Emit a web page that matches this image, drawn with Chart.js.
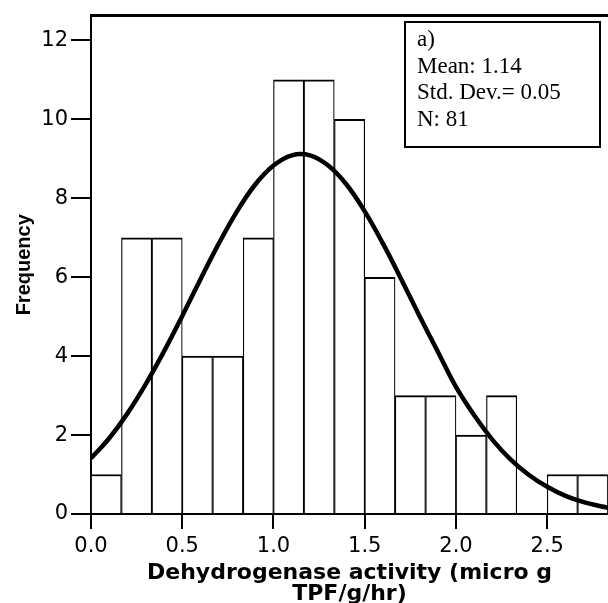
<!DOCTYPE html>
<html><head><meta charset="utf-8">
<script src="https://cdn.jsdelivr.net/npm/chart.js@4.4.1/dist/chart.umd.min.js"></script>
<style>html,body{margin:0;padding:0;background:#fff;}#wrap{width:608px;height:603px;position:relative;}</style>
</head><body><div id="wrap"><canvas id="c" width="608" height="603"></canvas></div>
<script>
// Histogram bins (centres of bins of width 1/6) and counts
const binCenters = [0.083,0.25,0.417,0.583,0.75,0.917,1.083,1.25,1.417,1.583,1.75,1.917,2.083,2.25,2.417,2.583,2.75];
const frequencies = [1,7,7,4,4,7,11,11,10,6,3,3,2,3,0,1,1];
// Fitted normal curve
const curveX = [0,0.1,0.2,0.3,0.4,0.5,0.6,0.7,0.8,0.9,1.0,1.1,1.2,1.3,1.4,1.5,1.6,1.7,1.8,1.9,2.0,2.1,2.2,2.3,2.4,2.5,2.6,2.7,2.8,2.833];
const curveY = [1.41,1.92,2.55,3.29,4.12,5.02,5.95,6.85,7.67,8.35,8.83,9.09,9.09,8.83,8.35,7.67,6.85,5.95,5.02,4.12,3.22,2.5,1.88,1.38,0.99,0.69,0.46,0.30,0.19,0.16];
const xTicks = [0,0.5,1.0,1.5,2.0,2.5];
const xTickLabels = ['0.0','0.5','1.0','1.5','2.0','2.5'];
const yTicks = [0,2,4,6,8,10,12];
const yTickLabels = ['0','2','4','6','8','10','12'];
const xTitle = ['Dehydrogenase activity (micro g','TPF/g/hr)'];
const yTitle = 'Frequency';
const statsLines = ['a)','Mean: 1.14','Std. Dev.= 0.05','N: 81'];

const framePlugin = {
  id: 'frame',
  afterDraw(chart) {
    const {ctx, chartArea} = chart;
    ctx.save();
    ctx.strokeStyle = '#000';
    ctx.lineWidth = 3;
    ctx.beginPath();
    ctx.moveTo(chartArea.left - 1, chartArea.top);
    ctx.lineTo(chartArea.right, chartArea.top);
    ctx.stroke();
    // stats box
    ctx.lineWidth = 2;
    ctx.strokeRect(405, 22, 195, 125);
    ctx.fillStyle = '#000';
    ctx.font = '23px "Liberation Serif", "Times New Roman", serif';
    ctx.textBaseline = 'alphabetic';
    ctx.textAlign = 'left';
    statsLines.forEach((t, i) => ctx.fillText(t, 417, 46 + i * 26.5));
    ctx.restore();
  }
};

new Chart(document.getElementById('c'), {
  type: 'bar',
  data: {
    datasets: [
      {
        type: 'line',
        data: curveX.map((x, i) => ({x: x, y: curveY[i]})),
        borderColor: '#000',
        borderWidth: 4.5,
        pointRadius: 0,
        tension: 0.4,
        fill: false,
        order: 0
      },
      {
        type: 'bar',
        data: binCenters.map((x, i) => ({x: x, y: frequencies[i]})),
        backgroundColor: '#fff',
        borderColor: '#000',
        borderWidth: {top: 2, left: 1.2, right: 1.2, bottom: 0},
        borderSkipped: false,
        barPercentage: 1,
        categoryPercentage: 1,
        order: 1
      }
    ]
  },
  options: {
    responsive: false,
    animation: false,
    devicePixelRatio: 1,
    layout: {padding: {top: 15, right: 0, bottom: 0, left: 0}},
    plugins: {legend: {display: false}, tooltip: {enabled: false}},
    scales: {
      x: {
        type: 'linear',
        min: 0,
        max: 2.833,
        offset: false,
        afterBuildTicks: s => { s.ticks = xTicks.map(v => ({value: v})); },
        afterFit: s => { s.height = 89; },
        ticks: {
          autoSkip: false, maxRotation: 0, color: '#000', padding: 5,
          font: {family: '"DejaVu Sans"', size: 21},
          callback: v => { const i = xTicks.findIndex(t => Math.abs(t - v) < 1e-6); return i >= 0 ? xTickLabels[i] : ''; }
        },
        grid: {offset: false, drawOnChartArea: false, drawTicks: true, tickLength: 15, color: '#000', lineWidth: 2},
        border: {display: true, color: '#000', width: 2},
        title: {display: true, text: xTitle, color: '#000', font: {family: '"DejaVu Sans"', size: 22, weight: 'bold', lineHeight: 0.95}, padding: {top: 0, bottom: -2}}
      },
      y: {
        min: 0,
        max: 12.63,
        afterBuildTicks: s => { s.ticks = yTicks.map(v => ({value: v})); },
        afterFit: s => { s.width = 91; },
        ticks: {
          color: '#000', padding: 3,
          font: {family: '"DejaVu Sans"', size: 21},
          callback: v => { const i = yTicks.indexOf(v); return i >= 0 ? yTickLabels[i] : ''; }
        },
        grid: {drawOnChartArea: false, drawTicks: true, tickLength: 20, color: '#000', lineWidth: 2},
        border: {display: true, color: '#000', width: 2},
        title: {display: true, text: yTitle, color: '#000', font: {family: '"Liberation Sans", Arial, sans-serif', size: 20, weight: 'bold'}, padding: {top: 12, bottom: 0}}
      }
    }
  },
  plugins: [framePlugin]
});
</script></body></html>
